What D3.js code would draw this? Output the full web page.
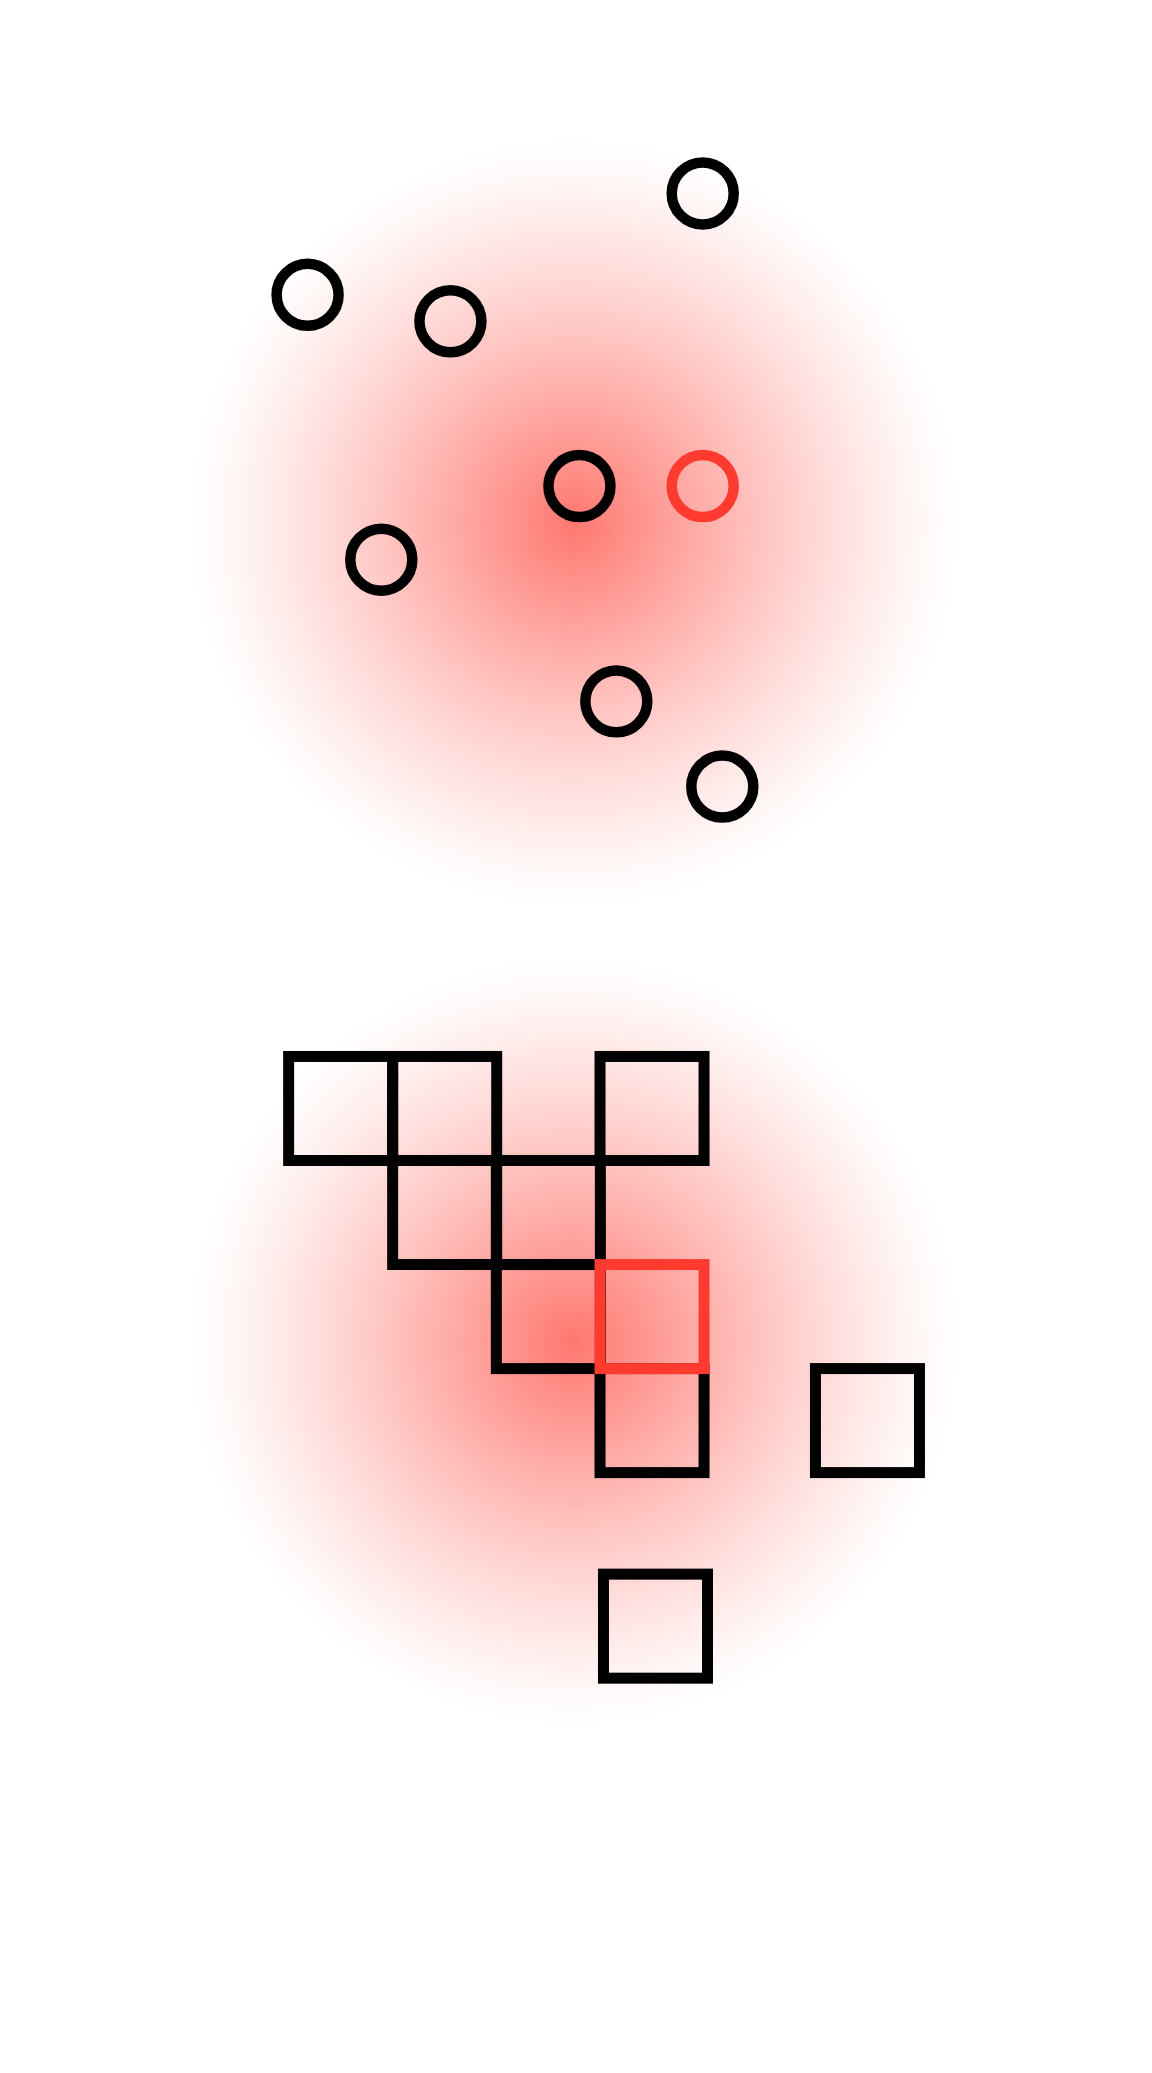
<!DOCTYPE html>
<html><head><meta charset="utf-8">
<script src="https://cdn.jsdelivr.net/npm/d3@7"></script>
<style>html,body{margin:0;padding:0;background:#fff;}svg{display:block;}</style>
</head><body>
<script>
// data (units: x 0..100, y 0..180)
const circleX = [61.0, 26.7, 39.1, 50.3, 61.0, 33.1, 53.5, 62.7];
const circleY = [16.8, 25.6, 27.9, 42.2, 42.2, 48.6, 60.9, 68.3];
const circleHighlight = 4;
const squareX = [29.57, 38.6, 56.6, 38.6, 47.6, 47.6, 56.6, 56.6, 75.3, 56.9];
const squareY = [96.25, 96.25, 96.25, 105.28, 105.28, 114.32, 114.32, 123.35, 123.35, 141.2];
const squareHighlight = 6;
const squareSize = 9.03;
const circleSize = 2.69;
const glowX = [49.8, 49.8];
const glowY = [45.4, 116.5];
const glowR = 33.5;

const W = 1152, H = 2073;
const RED = "#ff3b30";
const x = d3.scaleLinear().domain([0, 100]).range([0, W]);
const y = d3.scaleLinear().domain([0, 180]).range([0, H]);

const svg = d3.select("body").append("svg").attr("width", W).attr("height", H);
svg.append("rect").attr("width", W).attr("height", H).attr("fill", "#fff");

const defs = svg.append("defs");
const grad = defs.append("radialGradient").attr("id", "glow");
d3.range(0, 1.0001, 0.05).forEach(t => {
  const a = 0.69 * Math.pow(1 - t, 1.25);
  grad.append("stop").attr("offset", t).attr("stop-color", RED).attr("stop-opacity", a);
});

svg.selectAll("circle.glow").data(glowX).join("circle")
  .attr("class", "glow")
  .attr("cx", d => x(d))
  .attr("cy", (d, i) => y(glowY[i]))
  .attr("r", x(glowR) - x(0))
  .attr("fill", "url(#glow)");

const circles = circleX.map((v, i) => ({x: v, y: circleY[i], hi: i === circleHighlight}));
circles.sort((a, b) => a.hi - b.hi);
svg.selectAll("circle.pt").data(circles).join("circle")
  .attr("class", "pt")
  .attr("cx", d => x(d.x))
  .attr("cy", d => y(d.y))
  .attr("r", x(circleSize) - x(0))
  .attr("fill", "none")
  .attr("stroke", d => d.hi ? RED : "#000")
  .attr("stroke-width", 10.5);

const squares = squareX.map((v, i) => ({x: v, y: squareY[i], hi: i === squareHighlight}));
squares.sort((a, b) => a.hi - b.hi);
const s = x(squareSize) - x(0);
svg.selectAll("rect.sq").data(squares).join("rect")
  .attr("class", "sq")
  .attr("x", d => x(d.x) - s / 2)
  .attr("y", d => y(d.y) - s / 2)
  .attr("width", s)
  .attr("height", s)
  .attr("fill", "none")
  .attr("stroke", d => d.hi ? RED : "#000")
  .attr("stroke-width", 11);
</script>
</body></html>
